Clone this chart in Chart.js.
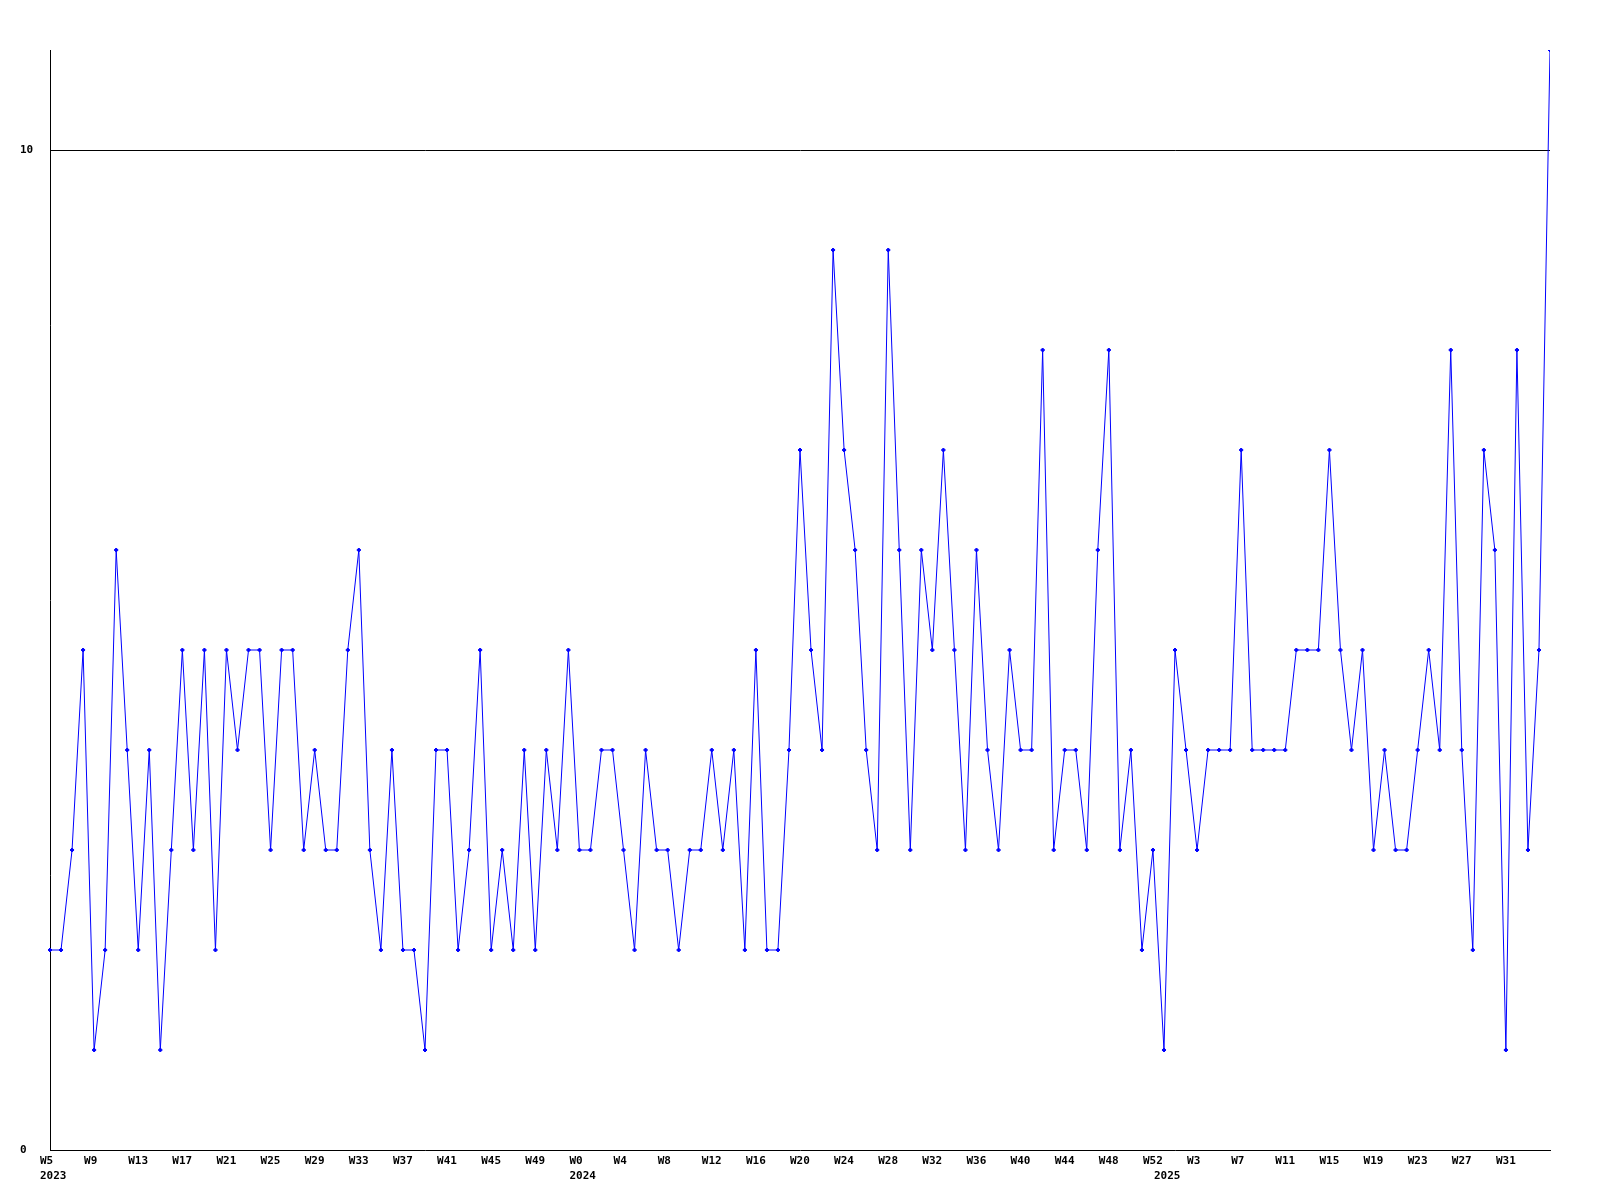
<!DOCTYPE html>
<html>
<head>
<meta charset="utf-8">
<title>Weekly chart</title>
<script src="https://cdn.jsdelivr.net/npm/chart.js@4/dist/chart.umd.min.js"></script>
<style>
  html, body { margin: 0; padding: 0; background: #ffffff; }
  #wrap { width: 1600px; height: 1200px; }
</style>
</head>
<body>
<div id="wrap"><canvas id="weeklyChart" width="1600" height="1200"></canvas></div>
<script>
// --------------------------
// Data
// --------------------------
const years = [2023, 2024, 2025];
const firstWeeks = [5, 0, 0];
const lastWeeks = [52, 52, 35];

// one value per week, 2023 W5 .. 2025 W35
const counts = [
  2, 2, 3, 5, 1, 2, 6, 4, 2, 4, 1, 3, 5, 3, 5, 2, 5, 4, 5, 5,
  3, 5, 5, 3, 4, 3, 3, 5, 6, 3, 2, 4, 2, 2, 1, 4, 4, 2, 3, 5,
  2, 3, 2, 4, 2, 4, 3, 5, 3, 3, 4, 4, 3, 2, 4, 3, 3, 2, 3, 3,
  4, 3, 4, 2, 5, 2, 2, 4, 7, 5, 4, 9, 7, 6, 4, 3, 9, 6, 3, 6,
  5, 7, 5, 3, 6, 4, 3, 5, 4, 4, 8, 3, 4, 4, 3, 6, 8, 3, 4, 2,
  3, 1, 5, 4, 3, 4, 4, 4, 7, 4, 4, 4, 4, 5, 5, 5, 7, 5, 4, 5,
  3, 4, 3, 3, 4, 5, 4, 8, 4, 2, 7, 6, 1, 8, 3, 5, 11
];

const yTicks = [0, 10];
const yMax = 11;
const labelEvery = 4;

// --------------------------
// Build week categories
// --------------------------
const weeks = [];
const yearStart = {};
years.forEach((y, i) => {
  yearStart[weeks.length] = String(y);
  for (let w = firstWeeks[i]; w <= lastWeeks[i]; w++) {
    weeks.push("W" + w);
  }
});

const tickFont = { family: "'DejaVu Sans Mono', monospace", size: 11, weight: "bold", lineHeight: "15px" };

// --------------------------
// Chart
// --------------------------
const weeklyChart = new Chart(document.getElementById("weeklyChart"), {
  type: "line",
  data: {
    labels: weeks,
    datasets: [
      {
        data: counts,
        clip: { left: 5, top: 0, right: 0, bottom: 5 },
        borderColor: "#0000ff",
        backgroundColor: "#0000ff",
        borderWidth: 1,
        tension: 0,
        pointStyle: "rectRot",
        pointRadius: 2,
        pointBorderWidth: 1,
        pointBorderColor: "#0000ff",
        pointBackgroundColor: "#0000ff",
      },
    ],
  },
  options: {
    responsive: false,
    animation: false,
    layout: { padding: { left: 20, top: 50, right: 50, bottom: 0 } },
    plugins: { legend: { display: false }, tooltip: { enabled: false } },
    scales: {
      x: {
        type: "category",
        offset: false,
        grid: { display: false, drawTicks: false },
        border: { display: true, color: "#000000", width: 1 },
        ticks: {
          autoSkip: false,
          maxRotation: 0,
          minRotation: 0,
          align: "start",
          labelOffset: -10,
          padding: 4,
          color: "#000000",
          font: tickFont,
          callback: function (value, index) {
            // the last week is left unlabelled
            if (index === weeks.length - 1) return "";
            const wk = index % labelEvery === 0 ? weeks[index] : "";
            const yr = yearStart[index] || "";
            if (!wk && !yr) return "";
            return yr ? [wk, yr] : wk;
          },
        },
        afterFit: (scale) => { scale.height = 50; },
      },
      y: {
        min: 0,
        max: yMax,
        grid: {
          drawTicks: false,
          lineWidth: 1,
          color: (ctx) => (ctx.tick && ctx.tick.value === 10 ? "#000000" : "rgba(0,0,0,0)"),
        },
        border: { display: true, color: "#000000", width: 1 },
        afterBuildTicks: (scale) => {
          scale.ticks = yTicks.map((v) => ({ value: v }));
        },
        ticks: {
          crossAlign: "far",
          padding: 0,
          color: "#000000",
          font: tickFont,
        },
        afterFit: (scale) => { scale.width = 30; },
      },
    },
  },
});
</script>
</body>
</html>
